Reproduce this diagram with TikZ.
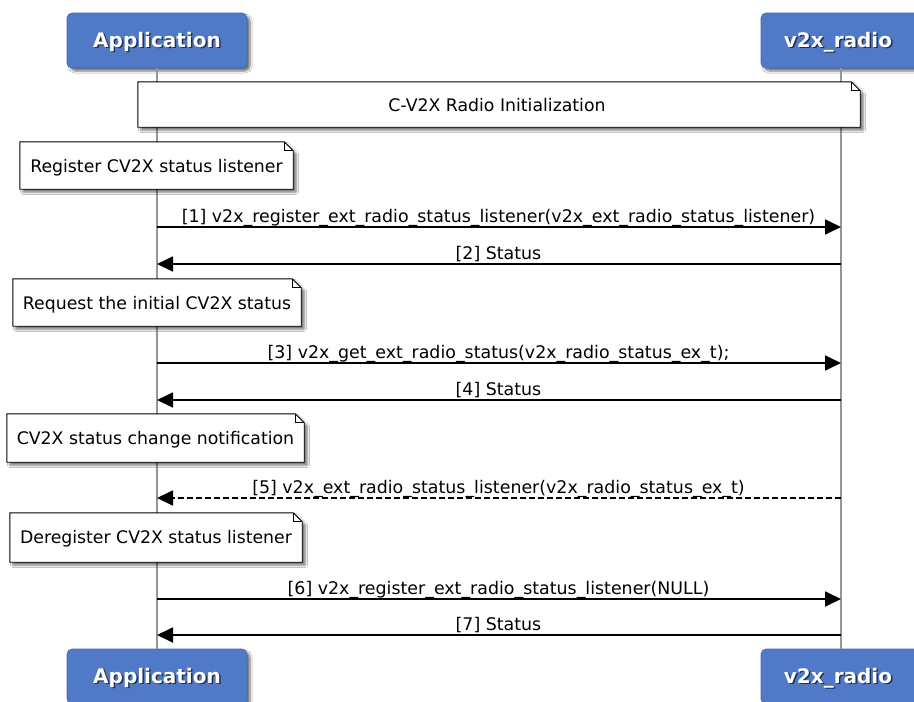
\documentclass[tikz,border=0pt]{standalone}
\usepackage{fontspec}
\setmainfont{DejaVu Sans}
\usetikzlibrary{arrows.meta,shadows.blur}
\definecolor{partblue}{RGB}{80,121,199}
\definecolor{lifegray}{RGB}{150,150,150}
\tikzset{
  part/.style={rounded corners=5pt, fill=partblue, draw=partblue!85!black, line width=0.6pt,
    blur shadow={shadow xshift=3pt, shadow yshift=-3pt, shadow blur steps=6, shadow opacity=55},
    minimum height=55pt, inner sep=0pt},
  parttext/.style={text=white, font=\bfseries\fontsize{20}{24}\selectfont, inner sep=0pt, anchor=base},
  partshadow/.style={text=black, opacity=0.6, font=\bfseries\fontsize{20}{24}\selectfont, inner sep=0pt, anchor=base},
  life/.style={draw=lifegray, line width=1.6pt},
  notearea/.style={inner sep=0pt, draw=none},
  noteline/.style={draw=black, fill=white, line width=0.9pt,
    blur shadow={shadow xshift=3pt, shadow yshift=-3pt, shadow blur steps=5, shadow opacity=55}},
  notetext/.style={font=\fontsize{17.3}{20}\selectfont, inner sep=0pt, anchor=base},
  msg/.style={draw=black, line width=1.8pt, -{Triangle[length=16pt,width=15pt]}},
  dmsg/.style={msg, dash pattern=on 6pt off 3pt},
  lbl/.style={font=\fontsize{17.4}{20}\selectfont, inner sep=0pt, anchor=base}
}
\newcommand\mknote[5]{%
  \node[notearea, minimum width={#4-#2}, minimum height={#5-#3}] (#1) at ({(#2+#4)/2},{(#3+#5)/2}) {};
  \path[noteline] (#1.north west) -- ([xshift=-9pt]#1.north east) -- ([yshift=-9pt]#1.north east)
     -- (#1.south east) -- (#1.south west) -- cycle;
  \draw[line width=0.9pt] ([xshift=-9pt]#1.north east) |- ([yshift=-9pt]#1.north east);
}
\begin{document}
\begin{tikzpicture}[x=1pt,y=-1pt]
\clip (0,0) rectangle (914,702);
\fill[white] (0,0) rectangle (914,702);

% participants
\node[part, minimum width=180pt] (appTop) at (157,40.5) {};
\node[part, minimum width=160pt] (radTop) at (841,40.5) {};
\node[part, minimum width=180pt] (appBot) at (157,676.5) {};
\node[part, minimum width=160pt] (radBot) at (841,676.5) {};

\draw[life] (appTop.south) -- (appBot.north);
\draw[life] (radTop.south) -- (radBot.north);

\node[partshadow] (appTopS) at (158.5,48.5) {Application};
\node[parttext] (appTopT) at (157,47) {Application};
\node[partshadow] (radTopS) at (839.5,48.5) {v2x\_radio};
\node[parttext] (radTopT) at (838,47) {v2x\_radio};
\node[partshadow] (appBotS) at (158.5,684.5) {Application};
\node[parttext] (appBotT) at (157,683) {Application};
\node[partshadow] (radBotS) at (839.5,684.5) {v2x\_radio};
\node[parttext] (radBotT) at (838,683) {v2x\_radio};

% notes
\mknote{nTitle}{138}{82}{860}{127}
\node[notetext] (tTitle) at (497,111) {C-V2X Radio Initialization};
\mknote{nA}{20}{142}{293}{189}
\node[notetext] (tA) at (156.5,172.5) {Register CV2X status listener};
\mknote{nB}{13}{279}{301}{326}
\node[notetext] (tB) at (157,309.5) {Request the initial CV2X status};
\mknote{nC}{7}{414}{304}{462}
\node[notetext] (tC) at (155.5,444) {CV2X status change notification};
\mknote{nD}{10}{513}{302}{562}
\node[notetext] (tD) at (156,543.5) {Deregister CV2X status listener};

% message endpoints
\foreach \n/\y in {1/227,2/264,3/363,4/400,5/498,6/599,7/635}{
  \coordinate (a\n) at (appTop.south |- 0,\y);
  \coordinate (r\n) at (radTop.south |- 0,\y);
}

\draw[msg] (a1) -- (r1);
\node[lbl] (l1) at (498.5,222) {[1] v2x\_register\_ext\_radio\_status\_listener(v2x\_ext\_radio\_status\_listener)};
\draw[msg] (r2) -- (a2);
\node[lbl] (l2) at (498.5,259) {[2] Status};
\draw[msg] (a3) -- (r3);
\node[lbl] (l3) at (498.5,358) {[3] v2x\_get\_ext\_radio\_status(v2x\_radio\_status\_ex\_t);};
\draw[msg] (r4) -- (a4);
\node[lbl] (l4) at (498.5,395) {[4] Status};
\draw[dmsg] (r5) -- (a5);
\node[lbl] (l5) at (498.5,493) {[5] v2x\_ext\_radio\_status\_listener(v2x\_radio\_status\_ex\_t)};
\draw[msg] (a6) -- (r6);
\node[lbl] (l6) at (498.5,594) {[6] v2x\_register\_ext\_radio\_status\_listener(NULL)};
\draw[msg] (r7) -- (a7);
\node[lbl] (l7) at (498.5,630) {[7] Status};
\end{tikzpicture}
\end{document}
